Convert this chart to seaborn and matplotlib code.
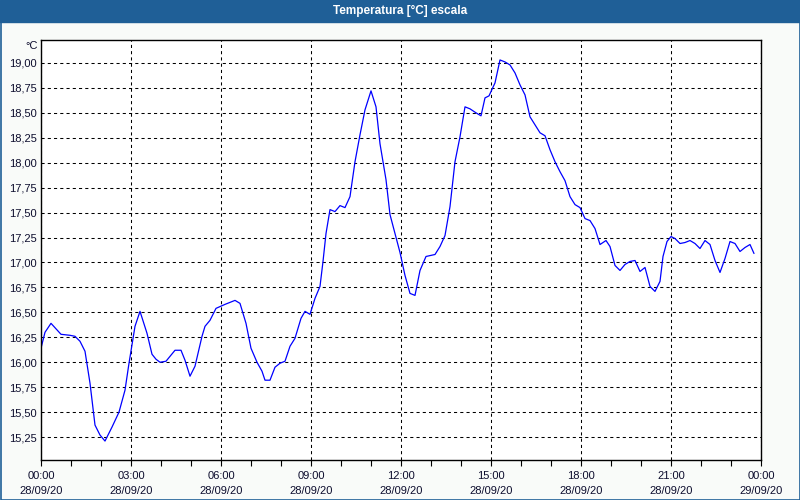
import matplotlib
matplotlib.use("Agg")
import matplotlib.pyplot as plt
from matplotlib.patches import Rectangle
from matplotlib.ticker import FixedLocator, FuncFormatter
import pandas as pd
import seaborn as sns

# minutes depuis 28/09/20 00:00 et température relevée
minutes = [0, 8, 20, 40, 58, 68, 78, 88, 98, 108, 118, 128, 142, 156, 168, 176,
           188, 198, 212, 222, 230, 238, 250, 268, 280, 288, 298, 308, 322, 328,
           338, 350, 368, 388, 398, 410, 420, 432, 442, 448, 458, 468, 478, 488,
           498, 508, 520, 528, 538, 548, 558, 564, 570, 578, 588, 598, 608, 618,
           628, 638, 648, 660, 670, 678, 690, 698, 708, 718, 728, 738, 748, 758,
           770, 788, 798, 808, 818, 828, 838, 848, 858, 870, 880, 888, 896, 908,
           918, 928, 938, 948, 958, 968, 978, 988, 998, 1008, 1018, 1028, 1038,
           1048, 1058, 1068, 1078, 1088, 1098, 1108, 1118, 1130, 1138, 1148, 1158,
           1168, 1178, 1188, 1198, 1208, 1218, 1228, 1238, 1244, 1252, 1260, 1268,
           1278, 1288, 1298, 1308, 1318, 1328, 1338, 1348, 1358, 1368, 1378, 1388,
           1398, 1408, 1418, 1426]
temperature = [16.14, 16.30, 16.39, 16.28, 16.27, 16.26, 16.21, 16.11, 15.79, 15.37,
               15.27, 15.21, 15.35, 15.50, 15.72, 15.99, 16.36, 16.51, 16.29, 16.08,
               16.03, 16.00, 16.01, 16.12, 16.12, 16.02, 15.86, 15.96, 16.26, 16.36,
               16.42, 16.54, 16.58, 16.62, 16.59, 16.39, 16.14, 16.00, 15.91, 15.82,
               15.82, 15.95, 15.99, 16.01, 16.16, 16.24, 16.44, 16.51, 16.48, 16.64,
               16.76, 17.01, 17.29, 17.53, 17.51, 17.57, 17.55, 17.66, 18.01, 18.28,
               18.53, 18.72, 18.56, 18.19, 17.83, 17.48, 17.29, 17.10, 16.87, 16.69,
               16.67, 16.92, 17.06, 17.08, 17.16, 17.27, 17.56, 18.01, 18.26, 18.56,
               18.54, 18.50, 18.47, 18.65, 18.67, 18.80, 19.03, 19.01, 18.98, 18.90,
               18.78, 18.68, 18.46, 18.38, 18.30, 18.27, 18.13, 18.01, 17.91, 17.82,
               17.66, 17.58, 17.55, 17.44, 17.42, 17.34, 17.18, 17.22, 17.16, 16.97,
               16.92, 16.98, 17.01, 17.02, 16.91, 16.95, 16.76, 16.71, 16.81, 17.06,
               17.21, 17.26, 17.24, 17.19, 17.20, 17.22, 17.19, 17.14, 17.22, 17.18,
               17.02, 16.90, 17.04, 17.21, 17.19, 17.11, 17.15, 17.18, 17.09]

x_ticks = [0, 3, 6, 9, 12, 15, 18, 21, 24]
x_labels = ["00:00\n28/09/20", "03:00\n28/09/20", "06:00\n28/09/20",
            "09:00\n28/09/20", "12:00\n28/09/20", "15:00\n28/09/20",
            "18:00\n28/09/20", "21:00\n28/09/20", "00:00\n29/09/20"]
y_ticks = [15.25, 15.5, 15.75, 16.0, 16.25, 16.5, 16.75, 17.0, 17.25, 17.5,
           17.75, 18.0, 18.25, 18.5, 18.75, 19.0]

TITLE = "Temperatura [°C] escala"
BAR_BLUE = "#1f5f97"
TXT = "#0d0d2e"

sns.set_style("white")
plt.rcParams["font.family"] = ["Liberation Sans", "DejaVu Sans"]

df = pd.DataFrame({"heure": [m / 60 for m in minutes], "temp": temperature})

fig = plt.figure(figsize=(8, 5), dpi=100, facecolor="#f9fbf9")
ax = fig.add_axes([41 / 800, 40 / 500, 720 / 800, 420 / 500])
ax.set_facecolor("white")

# bandeau de titre + cadre bleu
fig.patches.append(Rectangle((0, 1 - 22 / 500), 1, 22 / 500, transform=fig.transFigure,
                             color=BAR_BLUE, zorder=0))
fig.patches.append(Rectangle((0.5 / 800, 0.5 / 500), 799 / 800, 499 / 500,
                             transform=fig.transFigure, fill=False,
                             edgecolor=BAR_BLUE, lw=1.2, zorder=5))
fig.text(0.5, 1 - 11 / 500, TITLE, color="white", fontsize=8.5, fontweight="bold",
         ha="center", va="center")

sns.lineplot(data=df, x="heure", y="temp", ax=ax, color="#0000ff", linewidth=0.9)

ax.set_xlim(0, 24)
ax.set_ylim(15.02, 19.23)
ax.xaxis.set_major_locator(FixedLocator(x_ticks))
ax.xaxis.set_minor_locator(FixedLocator(range(25)))
ax.set_xticklabels(x_labels)
for lbl in ax.get_xticklabels():
    lbl.set_linespacing(1.55)
ax.yaxis.set_major_locator(FixedLocator(y_ticks))
ax.yaxis.set_major_formatter(FuncFormatter(lambda v, p: f"{v:.2f}".replace(".", ",")))

ax.grid(True, which="major", color="black", linestyle=(0, (3, 3)), linewidth=0.75)
ax.tick_params(axis="x", which="both", direction="out", length=4, width=0.8,
               colors="black", labelcolor=TXT, labelsize=8, pad=4, bottom=True)
ax.tick_params(axis="y", length=0, labelcolor=TXT, labelsize=8, pad=3)
ax.set_xlabel("")
ax.set_ylabel("")
for s in ax.spines.values():
    s.set_color("black")
    s.set_linewidth(1)

fig.text(38 / 800, 1 - 46 / 500, "°C", color=TXT, fontsize=8, ha="right", va="center")

fig.savefig("out.png", dpi=100, facecolor=fig.get_facecolor())
